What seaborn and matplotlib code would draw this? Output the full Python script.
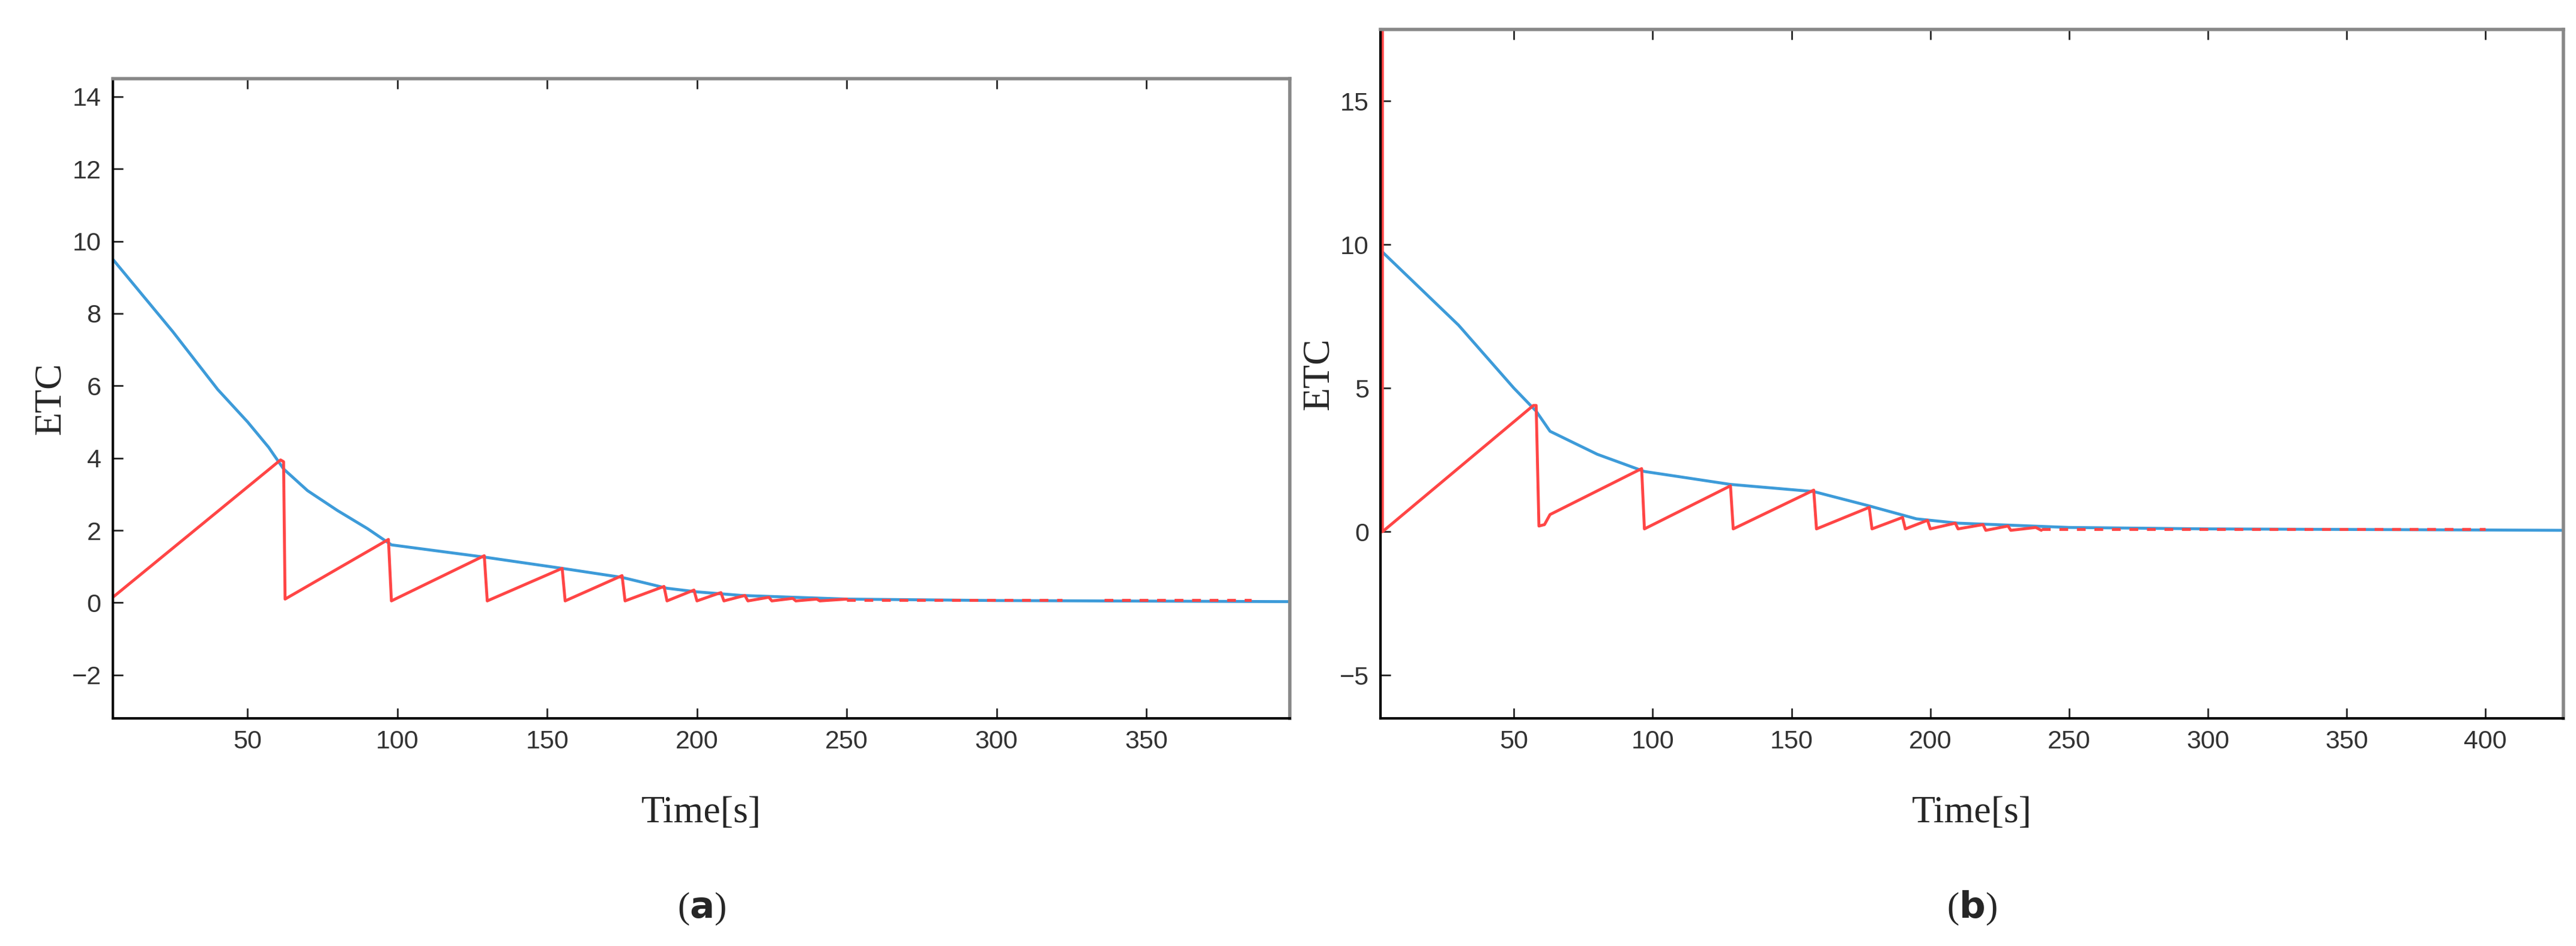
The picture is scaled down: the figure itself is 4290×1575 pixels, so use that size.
import pandas as pd
import seaborn as sns
import matplotlib.pyplot as plt

sns.set_style("white")

# panel (a) breakpoints
a_blue_t = [5, 15, 25, 40, 50, 57, 62, 70, 80, 90, 98, 130, 155, 175, 190, 200, 215, 250, 300, 398]
a_blue_v = [9.5, 8.5, 7.5, 5.9, 5.0, 4.3, 3.7, 3.1, 2.55, 2.05, 1.6, 1.25, 0.95, 0.7, 0.4, 0.3,
            0.2, 0.1, 0.06, 0.03]
a_red_t = [5, 61, 62, 62.5, 97, 98, 129, 130, 155, 156, 175, 176, 189, 190, 199, 200,
           208, 209, 216, 217, 224, 225, 232, 233, 240, 241, 250]
a_red_v = [0.15, 3.95, 3.9, 0.1, 1.75, 0.05, 1.3, 0.05, 0.95, 0.05, 0.75, 0.05, 0.45, 0.05,
           0.35, 0.05, 0.28, 0.05, 0.2, 0.05, 0.15, 0.05, 0.12, 0.05, 0.1, 0.05, 0.1]
a_tail_t = [250, 322]
a_tail_v = [0.08, 0.08]
a_tail2_t = [336, 385]
a_tail2_v = [0.08, 0.08]

# panel (b)
b_blue_t = [2, 30, 50, 58, 63, 80, 97, 128, 158, 178, 195, 210, 250, 300, 428]
b_blue_v = [9.8, 7.2, 5.0, 4.2, 3.5, 2.7, 2.1, 1.65, 1.4, 0.9, 0.45, 0.3, 0.15, 0.1, 0.05]
b_red_t = [2.6, 2.6, 57, 58, 59, 61, 63, 96, 97, 128, 129, 158, 159, 178, 179, 190, 191,
           199, 200, 209, 210, 219, 220, 228, 229, 238, 240]
b_red_v = [17.5, 0, 4.4, 4.4, 0.2, 0.25, 0.6, 2.2, 0.1, 1.6, 0.1, 1.45, 0.1, 0.85, 0.1,
           0.5, 0.1, 0.4, 0.1, 0.3, 0.1, 0.25, 0.05, 0.2, 0.05, 0.15, 0.05]
b_tail_t = [240, 400]
b_tail_v = [0.1, 0.1]
b_tail2_t = []
b_tail2_v = []

blue = "#3d9bd9"
red = "#ff4545"

fig = plt.figure(figsize=(42.9, 15.75), dpi=100)
ax1 = fig.add_axes([0.0438, 0.2406, 0.457, 0.6764])
ax2 = fig.add_axes([0.536, 0.2406, 0.459, 0.7284])


def draw(ax, bt, bv, rt, rv, tt, tv, t2, v2):
    sns.lineplot(x=bt, y=bv, ax=ax, color=blue, lw=3.5, sort=False, estimator=None)
    sns.lineplot(x=rt, y=rv, ax=ax, color=red, lw=3.5, sort=False, estimator=None)
    sns.lineplot(x=tt, y=tv, ax=ax, color=red, lw=3.5, ls=(0, (3, 3)), sort=False, estimator=None)
    if t2:
        sns.lineplot(x=t2, y=v2, ax=ax, color=red, lw=3.5, ls=(0, (3, 3)), sort=False, estimator=None)


draw(ax1, a_blue_t, a_blue_v, a_red_t, a_red_v, a_tail_t, a_tail_v, a_tail2_t, a_tail2_v)
draw(ax2, b_blue_t, b_blue_v, b_red_t, b_red_v, b_tail_t, b_tail_v, b_tail2_t, b_tail2_v)

ax1.set_xlim(5, 398)
ax1.set_ylim(-3.2, 14.5)
ax1.set_xticks([50, 100, 150, 200, 250, 300, 350])
ax1.set_yticks([-2, 0, 2, 4, 6, 8, 10, 12, 14])
ax2.set_xlim(2, 428)
ax2.set_ylim(-6.5, 17.5)
ax2.set_xticks([50, 100, 150, 200, 250, 300, 350, 400])
ax2.set_yticks([-5, 0, 5, 10, 15])

for ax, lab in [(ax1, "a"), (ax2, "b")]:
    for s in ["left", "bottom"]:
        ax.spines[s].set_color("black")
        ax.spines[s].set_linewidth(3)
    for s in ["top", "right"]:
        ax.spines[s].set_color("#888888")
        ax.spines[s].set_linewidth(4)
    ax.tick_params(direction="in", length=12, width=2, labelsize=31, pad=14,
                   top=True, bottom=True, left=True, labelfontfamily="Liberation Sans",
                   labelcolor="#333333")
    ax.set_xlabel("Time[s]", fontsize=46, family="Liberation Serif", labelpad=50)
    ax.set_ylabel("ETC", fontsize=46, family="Liberation Serif", labelpad=4)
    pos = ax.get_position()
    fig.text(pos.x0 + pos.width / 2, 0.03, "(" + r"$\mathbf{" + lab + "}$" + ")", ha="center",
             fontsize=44, family="Liberation Serif")

plt.rcParams["mathtext.fontset"] = "stix"
fig.savefig("out.png", dpi=100, facecolor="white")
